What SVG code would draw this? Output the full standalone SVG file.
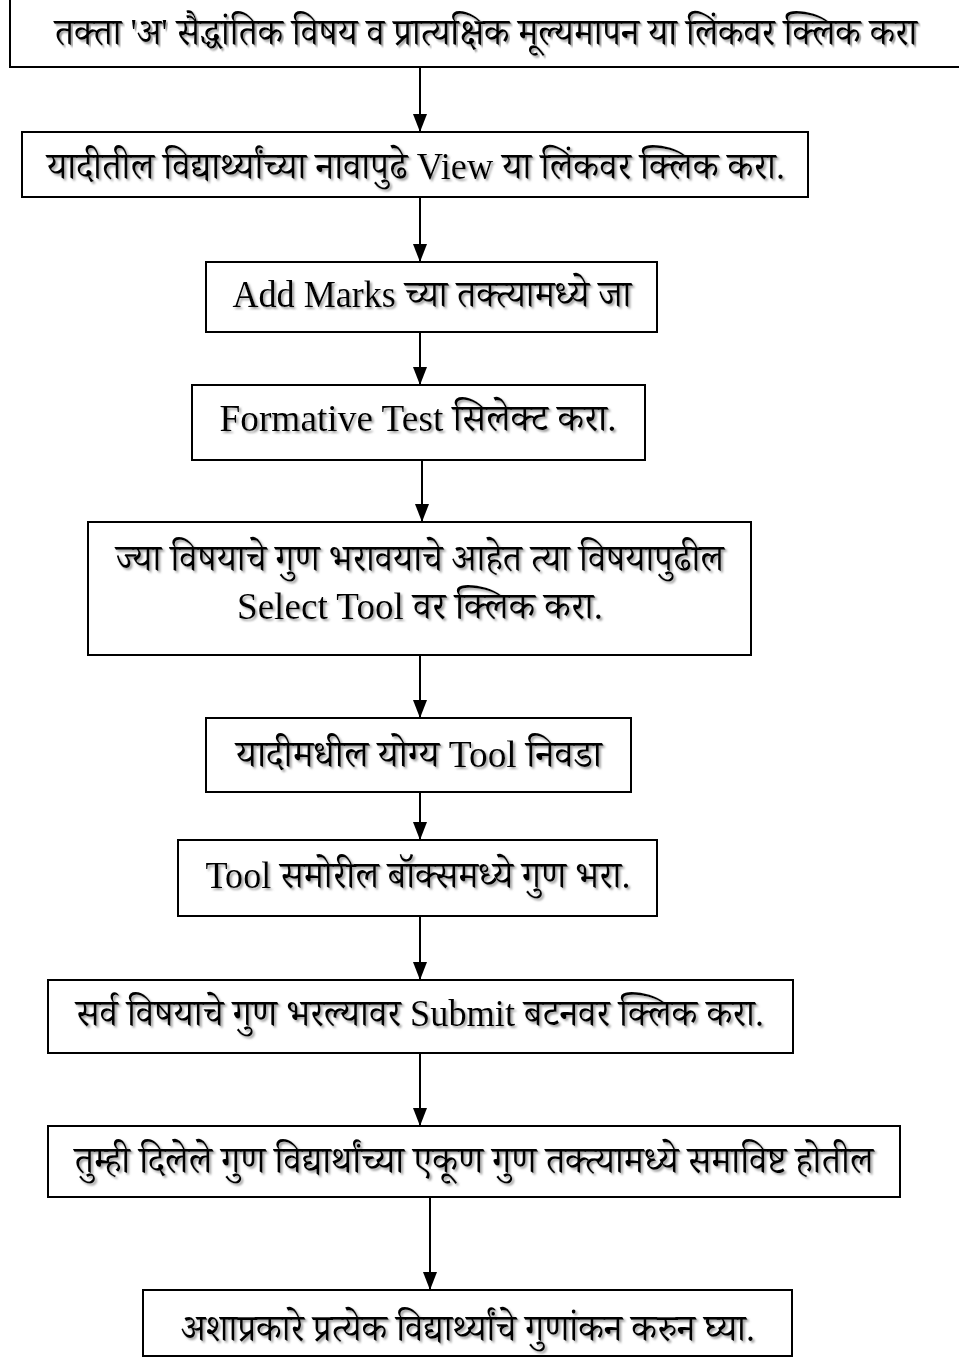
<svg xmlns="http://www.w3.org/2000/svg" width="959" height="1358" viewBox="0 0 959 1358">
<style>
.box{fill:#fff;stroke:#000;stroke-width:2}
.t{font-family:"Liberation Serif","Noto Serif Devanagari","Noto Sans Devanagari","Noto Sans",serif;font-size:38px;fill:#000;text-anchor:middle;filter:url(#sh)}
.c{stroke:#000;stroke-width:2;fill:none;marker-end:url(#ah)}
</style>
<defs>
<filter id="sh" x="-2%" y="-10%" width="104%" height="130%"><feDropShadow dx="2" dy="2" stdDeviation="0.8" flood-color="#888" flood-opacity="0.8"/></filter>
<marker id="ah" markerUnits="userSpaceOnUse" markerWidth="20" markerHeight="14" refX="18" refY="7" orient="auto" viewBox="0 0 20 14"><path d="M0,0 L18,7 L0,14 Z" fill="#000"/></marker>
</defs>
<g id="connectors">
<line class="c" x1="420" y1="68" x2="420" y2="132"/>
<line class="c" x1="420" y1="198" x2="420" y2="262"/>
<line class="c" x1="420" y1="333" x2="420" y2="385"/>
<line class="c" x1="422" y1="461" x2="422" y2="522"/>
<line class="c" x1="420" y1="656" x2="420" y2="718"/>
<line class="c" x1="420" y1="793" x2="420" y2="840"/>
<line class="c" x1="420" y1="917" x2="420" y2="980"/>
<line class="c" x1="420" y1="1040" x2="420" y2="1126"/>
<line class="c" x1="430" y1="1198" x2="430" y2="1290"/>
</g>
<g id="n1"><path d="M10,0 V67 H959" fill="#fff" stroke="#000" stroke-width="2"/><text class="t" transform="translate(486,45) scale(0.94,1)" x="0" y="0" font-size="34">तक्ता 'अ' सैद्धांतिक विषय व प्रात्यक्षिक मूल्यमापन या लिंकवर क्लिक करा</text></g>
<g id="n2"><rect class="box" x="22" y="132" width="786" height="65"/><text class="t" x="416" y="179" textLength="738" lengthAdjust="spacingAndGlyphs">यादीतील विद्यार्थ्यांच्या नावापुढे View या लिंकवर क्लिक करा.</text></g>
<g id="n3"><rect class="box" x="206" y="262" width="451" height="70"/><text class="t" x="432" y="307" textLength="399" lengthAdjust="spacingAndGlyphs">Add Marks च्या तक्त्यामध्ये जा</text></g>
<g id="n4"><rect class="box" x="192" y="385" width="453" height="75"/><text class="t" x="418" y="431" textLength="397" lengthAdjust="spacingAndGlyphs">Formative Test सिलेक्ट करा.</text></g>
<g id="n5"><rect class="box" x="88" y="522" width="663" height="133"/><text class="t" x="420" y="571" textLength="608" lengthAdjust="spacingAndGlyphs">ज्या विषयाचे गुण भरावयाचे आहेत त्या विषयापुढील</text><text class="t" x="420" y="619" textLength="366" lengthAdjust="spacingAndGlyphs">Select Tool वर क्लिक करा.</text></g>
<g id="n6"><rect class="box" x="206" y="718" width="425" height="74"/><text class="t" x="419" y="767" textLength="366" lengthAdjust="spacingAndGlyphs">यादीमधील योग्य Tool निवडा</text></g>
<g id="n7"><rect class="box" x="178" y="840" width="479" height="76"/><text class="t" x="418" y="888" textLength="425" lengthAdjust="spacingAndGlyphs">Tool समोरील बॉक्समध्ये गुण भरा.</text></g>
<g id="n8"><rect class="box" x="48" y="980" width="745" height="73"/><text class="t" x="420" y="1026" textLength="688" lengthAdjust="spacingAndGlyphs">सर्व विषयाचे गुण भरल्यावर Submit बटनवर क्लिक करा.</text></g>
<g id="n9"><rect class="box" x="48" y="1126" width="852" height="71"/><text class="t" x="474" y="1173" textLength="799" lengthAdjust="spacingAndGlyphs">तुम्ही दिलेले गुण विद्यार्थांच्या एकूण गुण तक्त्यामध्ये समाविष्ट होतील</text></g>
<g id="n10"><rect class="box" x="143" y="1290" width="649" height="66"/><text class="t" x="468" y="1341" textLength="574" lengthAdjust="spacingAndGlyphs">अशाप्रकारे प्रत्येक विद्यार्थ्यांचे गुणांकन करुन घ्या.</text></g>
</svg>
